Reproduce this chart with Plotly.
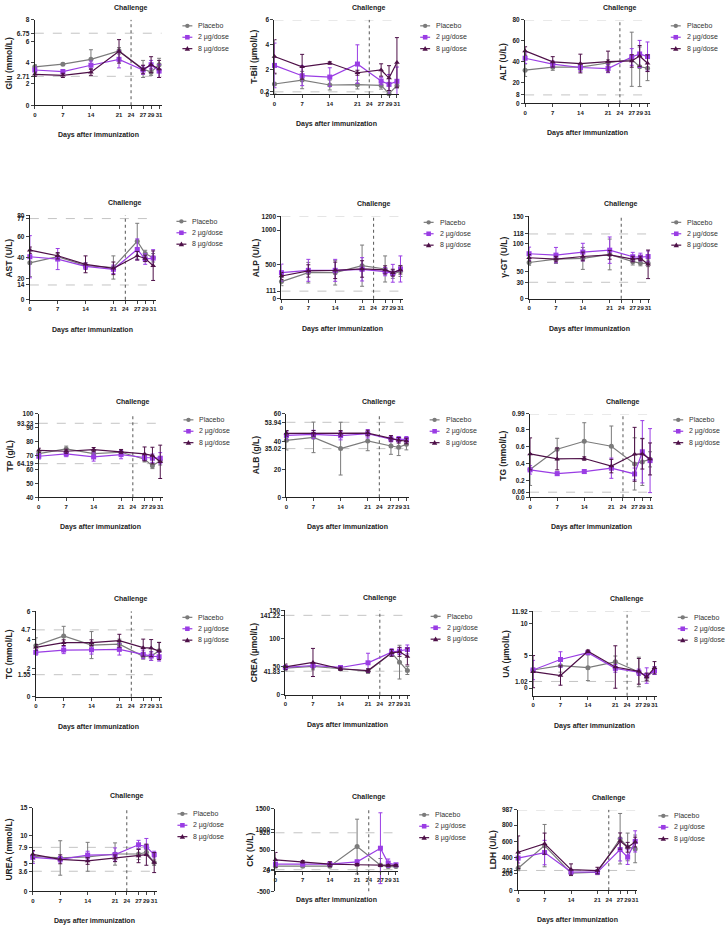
import plotly.graph_objects as go

W, H = 726, 928

days = [0, 7, 14, 21, 27, 29, 31]
x_ticks = [0, 7, 14, 21, 24, 27, 29, 31]
groups = ["Placebo", "2 µg/dose", "8 µg/dose"]
colors = ["#7b7b7b", "#9a3de4", "#4e1048"]
symbols = ["circle", "square", "triangle-up"]

# means per group: [Placebo, 2 ug, 8 ug]; sd in the same order
glu_mean = [[3.6, 3.85, 4.3, 5.1, 3.4, 3.1, 3.8],
            [3.3, 3.15, 3.75, 4.3, 3.3, 3.8, 3.2],
            [2.9, 2.8, 3.1, 5.05, 3.35, 3.8, 3.4]]
glu_sd = [[0.2, 0.1, 0.9, 0.3, 0.8, 0.3, 0.6],
          [0.3, 0.2, 0.4, 0.8, 0.4, 0.4, 0.6],
          [0.2, 0.2, 0.3, 1.1, 0.4, 0.75, 0.8]]
glu_ticks = ["0", "2", "2.71", "4", "6", "6.75", "8"]
glu_refs = [2.71, 6.75]

tbil_mean = [[0.83, 1.15, 0.75, 0.78, 0.72, 0.05, 0.7],
             [2.33, 1.5, 1.39, 2.44, 1.07, 0.8, 1.05],
             [3.05, 2.22, 2.52, 1.74, 1.96, 1.31, 2.57]]
tbil_sd = [[0.8, 0.7, 0.4, 0.35, 0.3, 0.1, 0.2],
           [1.8, 0.8, 0.75, 1.55, 0.3, 0.8, 1.15],
           [1.35, 1.0, 0.1, 0.2, 0.5, 1.0, 2.0]]
tbil_ticks = ["0", "0.2", "2", "4", "6"]
tbil_refs = [0.2, 6]

alt_mean = [[31.7, 34.6, 34.6, 38.7, 42.2, 35.0, 33.7],
            [43.2, 37.5, 34.3, 33.3, 44.4, 47.3, 44.8],
            [50.2, 39.7, 38.1, 40.0, 40.6, 45.4, 38.4]]
alt_sd = [[6, 3, 3, 3, 26, 19, 12],
          [5, 3, 4, 4, 8, 13, 14],
          [4, 5, 9, 10, 6, 10, 8]]
alt_ticks = ["0", "8", "20", "40", "60", "80"]
alt_refs = [8, 80]

ast_mean = [[35.0, 40.8, 32.3, 30.6, 55.5, 43.9, 39.8],
            [40.8, 38.6, 31.7, 28.9, 47.7, 38.6, 39.5],
            [47.0, 41.7, 33.6, 29.8, 41.7, 39.2, 32.3]]
ast_sd = [[13, 3, 3, 11, 17, 3, 4],
          [20, 10, 3, 4, 10, 5, 8],
          [3, 3, 8, 6, 4, 3, 14]]
ast_ticks = ["0", "14", "20", "40", "60", "77", "80"]
ast_refs = [14, 77]

alp_mean = [[250, 380, 380, 482, 434, 357, 405],
            [380, 414, 414, 429, 395, 371, 434],
            [332, 405, 414, 434, 420, 380, 420]]
alp_sd = [[60, 150, 180, 300, 190, 60, 80],
          [125, 160, 160, 170, 60, 130, 190],
          [50, 90, 120, 120, 60, 50, 60]]
alp_ticks = ["0", "111", "500", "1000", "1200"]
alp_refs = [111, 1200]

ggt_mean = [[66, 72.3, 73.5, 80.7, 67.5, 65, 64.5],
            [82, 79.5, 85, 88.5, 76.5, 76, 77],
            [74.7, 72.3, 77, 80, 72.3, 73.5, 62.7]]
ggt_sd = [[5, 8, 20, 28, 6, 5, 6],
          [12, 14, 16, 24, 8, 7, 10],
          [6, 5, 8, 8, 5, 4, 26]]
ggt_ticks = ["0", "30", "50", "100", "118", "150"]
ggt_refs = [30, 118]

tp_mean = [[71.4, 74.8, 71.4, 72.4, 67.4, 62.6, 66.2],
           [69.5, 71.2, 69.0, 70.7, 68.6, 68.1, 68.1],
           [73.8, 73.1, 74.3, 72.9, 71.2, 70.0, 65.5]]
tp_sd = [[2, 2, 2, 1.5, 2, 2, 3],
         [2, 2, 3, 3, 2, 3, 4],
         [1.5, 1.5, 1.5, 1.5, 5, 6, 12]]
tp_ticks = ["40", "50", "60", "64.19", "70", "80", "90", "93.23", "100"]
tp_refs = [64.19, 93.23]

alb_mean = [[41, 43.1, 35, 40.5, 36.9, 36, 38.1],
            [44.5, 45.2, 44.3, 45.7, 41.9, 41.7, 41.7],
            [46, 46, 46, 46.2, 42.4, 41, 40.5]]
alb_sd = [[7, 11, 19, 7, 6, 6, 4],
          [3, 3, 3, 3, 2, 2, 2],
          [2, 2, 2, 2, 2, 2, 2]]
alb_ticks = ["0", "20", "35.02", "40", "53.94", "60"]
alb_refs = [35.02, 53.94]

tg_mean = [[0.33, 0.57, 0.665, 0.606, 0.396, 0.42, 0.45],
           [0.325, 0.28, 0.305, 0.345, 0.277, 0.54, 0.435],
           [0.515, 0.455, 0.46, 0.37, 0.51, 0.515, 0.455]]
tg_sd = [[0.19, 0.13, 0.22, 0.24, 0.31, 0.28, 0.09],
         [0.05, 0.02, 0.02, 0.12, 0.07, 0.37, 0.38],
         [0.19, 0.13, 0.02, 0.08, 0.32, 0.18, 0.19]]
tg_ticks = ["0.0", "0.06", "0.2", "0.4", "0.6", "0.8", "0.99"]
tg_refs = [0.06, 0.99]

tc_mean = [[3.59, 4.27, 3.63, 3.70, 2.84, 2.86, 3.23],
           [3.12, 3.28, 3.30, 3.33, 2.98, 2.86, 2.81],
           [3.47, 3.80, 3.80, 3.94, 3.45, 3.42, 3.21]]
tc_sd = [[0.55, 0.68, 0.95, 0.35, 0.2, 0.3, 0.6],
         [0.2, 0.25, 0.3, 0.4, 0.3, 0.3, 0.3],
         [0.2, 0.2, 0.2, 0.45, 0.6, 0.6, 0.6]]
tc_ticks = ["0", "1.55", "2", "4", "4.7", "6"]
tc_refs = [1.55, 4.7]

crea_mean = [[47.3, 50.3, 46.2, 42.0, 74.0, 58.0, 43.0],
             [48.5, 52.0, 48.5, 56.8, 75.7, 77.5, 80.5],
             [49.7, 57.4, 46.2, 43.0, 74.5, 76.3, 68.0]]
crea_sd = [[5, 6, 3, 4, 6, 30, 7],
           [4, 4, 3, 17, 6, 6, 8],
           [5, 25, 3, 3, 6, 8, 15]]
crea_ticks = ["0", "41.83", "50", "100", "141.22", "150"]
crea_refs = [41.83, 141.22]

ua_mean = [[2.8, 3.47, 3.16, 4.08, 2.5, 1.79, 2.7],
           [2.8, 4.44, 5.5, 3.06, 2.45, 1.94, 2.7],
           [2.55, 1.94, 5.71, 3.27, 2.6, 1.73, 3.16]]
ua_sd = [[0.3, 1.0, 2.0, 0.9, 2.3, 0.4, 0.6],
         [1.5, 1.2, 0.3, 0.6, 0.5, 1.2, 0.6],
         [2.5, 1.5, 0.2, 3.3, 2.0, 0.6, 0.95]]
ua_ticks = ["0", "1.02", "5", "10", "11.92"]
ua_refs = [1.02, 11.92]

urea_mean = [[6.3, 5.99, 6.2, 6.7, 6.7, 7.0, 5.16],
             [6.1, 5.75, 6.5, 6.6, 8.36, 8.0, 6.6],
             [6.64, 5.75, 5.45, 5.93, 6.34, 6.58, 5.16]]
urea_sd = [[1.0, 3.1, 2.6, 2.0, 1.0, 0.5, 0.5],
           [1.1, 0.5, 0.7, 1.2, 0.8, 1.5, 0.6],
           [0.7, 0.8, 0.6, 0.6, 1.2, 1.9, 1.8]]
urea_ticks = ["0", "3.6", "5", "7.9", "10", "15"]
urea_refs = [3.6, 7.9]

ck_mean = [[110, 110, 110, 585, 135, 100, 100],
           [158, 158, 158, 215, 545, 183, 143],
           [262, 215, 158, 143, 127, 127, 127]]
ck_sd = [[20, 20, 20, 665, 160, 30, 20],
         [30, 20, 30, 40, 860, 100, 30],
         [180, 30, 60, 30, 20, 20, 20]]
ck_ticks = ["-500", "0", "24", "500", "920", "1000", "1500"]
ck_refs = [24, 920]

ldh_mean = [[270, 548, 210, 222, 633, 532, 508],
            [395, 463, 226, 222, 500, 407, 600],
            [467, 572, 254, 242, 604, 528, 592]]
ldh_sd = [[30, 260, 30, 30, 310, 170, 170],
          [60, 150, 30, 20, 140, 90, 130],
          [200, 130, 70, 40, 100, 60, 60]]
ldh_ticks = ["0", "200", "243", "400", "600", "800", "987"]
ldh_refs = [243, 987]

panels = [
    ("Glu (mmol/L)", glu_mean, glu_sd, [0, 8], glu_ticks, glu_refs),
    ("T-Bil (µmol/L)", tbil_mean, tbil_sd, [0, 6], tbil_ticks, tbil_refs),
    ("ALT (U/L)", alt_mean, alt_sd, [0, 80], alt_ticks, alt_refs),
    ("AST (U/L)", ast_mean, ast_sd, [0, 80], ast_ticks, ast_refs),
    ("ALP (U/L)", alp_mean, alp_sd, [0, 1200], alp_ticks, alp_refs),
    ("γ-GT (U/L)", ggt_mean, ggt_sd, [0, 150], ggt_ticks, ggt_refs),
    ("TP (g/L)", tp_mean, tp_sd, [40, 100], tp_ticks, tp_refs),
    ("ALB (g/L)", alb_mean, alb_sd, [0, 60], alb_ticks, alb_refs),
    ("TG (mmol/L)", tg_mean, tg_sd, [0, 0.99], tg_ticks, tg_refs),
    ("TC (mmol/L)", tc_mean, tc_sd, [0, 6], tc_ticks, tc_refs),
    ("CREA (µmol/L)", crea_mean, crea_sd, [0, 150], crea_ticks, crea_refs),
    ("UA (µmol/L)", ua_mean, ua_sd, [-1.2, 11.92], ua_ticks, ua_refs),
    ("UREA (mmol/L)", urea_mean, urea_sd, [0, 15], urea_ticks, urea_refs),
    ("CK (U/L)", ck_mean, ck_sd, [-500, 1500], ck_ticks, ck_refs),
    ("LDH (U/L)", ldh_mean, ldh_sd, [0, 987], ldh_ticks, ldh_refs),
]

# plot boxes in pixels: left, right, top, bottom ; y-title x position
boxes = [
    (33, 160.4, 16, 102), (274, 399.5, 16, 91), (526, 651.5, 16, 100),
    (28, 154.4, 213, 298), (281, 403, 214, 297), (530, 652, 214, 297),
    (37, 161.5, 413, 497), (286, 409, 413, 497), (531, 654, 413, 497),
    (34, 160.4, 612, 698), (285, 410, 611, 696), (534, 658.5, 612, 697),
    (31, 155.4, 810, 894), (275, 398.5, 811, 894), (519, 639, 812, 893),
]
ytitle_x = [6, 252, 502, 6, 254, 503, 7, 254, 502, 6, 252, 505, 6, 248, 493]

FONT = "Liberation Sans, Arial, sans-serif"
XMAX = 31.6


def px(x):
    return x / W


def py(y):
    return 1 - y / H


def label(text, x, y, size, angle=0, anchor="center", color="#222"):
    return dict(text=text, x=px(x), y=py(y), xref="paper", yref="paper",
                xanchor=anchor, yanchor="middle", textangle=angle,
                showarrow=False, font=dict(family=FONT, size=size, color=color))


fig = go.Figure()
shapes, annotations = [], []

for i, ((ytitle, mean, sd, yr, ticks, refs), (l, r, t, b), ytx) in enumerate(
        zip(panels, boxes, ytitle_x), start=1):
    sfx = "" if i == 1 else str(i)
    xa, ya = "x" + sfx, "y" + sfx
    for g in range(3):
        fig.add_trace(go.Scatter(
            x=days, y=mean[g], name=groups[g], mode="lines+markers",
            xaxis=xa, yaxis=ya, showlegend=False, cliponaxis=False,
            line=dict(color=colors[g], width=1.2),
            marker=dict(symbol=symbols[g], size=5, color=colors[g]),
            error_y=dict(type="data", array=sd[g], color=colors[g],
                         thickness=1, width=2),
        ))

    xaxis = dict(domain=[px(l), px(r)], range=[0, XMAX], anchor=ya,
                 tickvals=x_ticks, tickangle=0, ticks="outside", ticklen=3,
                 tickwidth=1, showline=True, linecolor="#222", linewidth=1.2,
                 showgrid=False, zeroline=False,
                 tickfont=dict(family=FONT, size=6, color="#222", weight="bold"))
    if ytitle.startswith("CK"):
        # x axis crosses at y = 0
        y0px = b - (0 - yr[0]) / (yr[1] - yr[0]) * (b - t)
        xaxis.update(anchor="free", position=py(y0px))
        xline_y = y0px
    else:
        xline_y = b
    fig.layout["xaxis" + sfx] = xaxis
    fig.layout["yaxis" + sfx] = dict(
        domain=[py(b), py(t)], range=yr, anchor=xa,
        tickvals=[float(v) for v in ticks], ticktext=ticks, tickangle=0,
        ticks="outside", ticklen=3, tickwidth=1,
        showline=True, linecolor="#222", linewidth=1.2,
        showgrid=False, zeroline=False,
        tickfont=dict(family=FONT, size=6.5, color="#222", weight="bold"))

    # reference range lines
    for v in refs:
        shapes.append(dict(type="line", xref=f"{xa} domain", yref=ya,
                           x0=0, x1=1, y0=v, y1=v, layer="below",
                           line=dict(color="#bdbdbd", width=0.9, dash="dash")))
    # challenge day
    shapes.append(dict(type="line", xref=xa, yref=f"{ya} domain",
                       x0=24, x1=24, y0=0, y1=1, layer="below",
                       line=dict(color="#555", width=1, dash="dot")))

    xc24 = l + 24 / XMAX * (r - l)
    annotations.append(label("<b>Challenge</b>", xc24, t - 12, 7))
    annotations.append(label("<b>Days after immunization</b>", (l + r) / 2,
                             xline_y + 30, 7))
    annotations.append(label(f"<b>{ytitle}</b>", ytx + 1, (t + b) / 2, 8.5,
                             angle=-90))

    # legend drawn beside each panel
    lx, ly = r + 21, t + 6
    for g in range(3):
        yy = ly + g * 11.5
        shapes.append(dict(type="line", xref="paper", yref="paper",
                           x0=px(lx), x1=px(lx + 10), y0=py(yy), y1=py(yy),
                           line=dict(color=colors[g], width=1.2)))
        cx = lx + 5
        if symbols[g] == "circle":
            shapes.append(dict(type="circle", xref="paper", yref="paper",
                               x0=px(cx - 2.2), x1=px(cx + 2.2),
                               y0=py(yy + 2.2), y1=py(yy - 2.2),
                               fillcolor=colors[g], line=dict(width=0)))
        elif symbols[g] == "square":
            shapes.append(dict(type="rect", xref="paper", yref="paper",
                               x0=px(cx - 2.3), x1=px(cx + 2.3),
                               y0=py(yy + 2.3), y1=py(yy - 2.3),
                               fillcolor=colors[g], line=dict(width=0)))
        else:
            path = (f"M {px(cx - 2.7)},{py(yy + 2.2)} L {px(cx + 2.7)},{py(yy + 2.2)} "
                    f"L {px(cx)},{py(yy - 2.8)} Z")
            shapes.append(dict(type="path", xref="paper", yref="paper", path=path,
                               fillcolor=colors[g], line=dict(width=0)))
        annotations.append(label(groups[g], lx + 14, yy, 7, anchor="left",
                                 color="#333"))

fig.update_layout(width=W, height=H, margin=dict(l=0, r=0, t=0, b=0),
                  paper_bgcolor="white", plot_bgcolor="white",
                  showlegend=False, shapes=shapes, annotations=annotations)

# the page body has a default 8px margin; remove it so pixels line up
fig.write_html("out.html", config={"displayModeBar": False},
               post_script="document.body.style.margin='0';")
